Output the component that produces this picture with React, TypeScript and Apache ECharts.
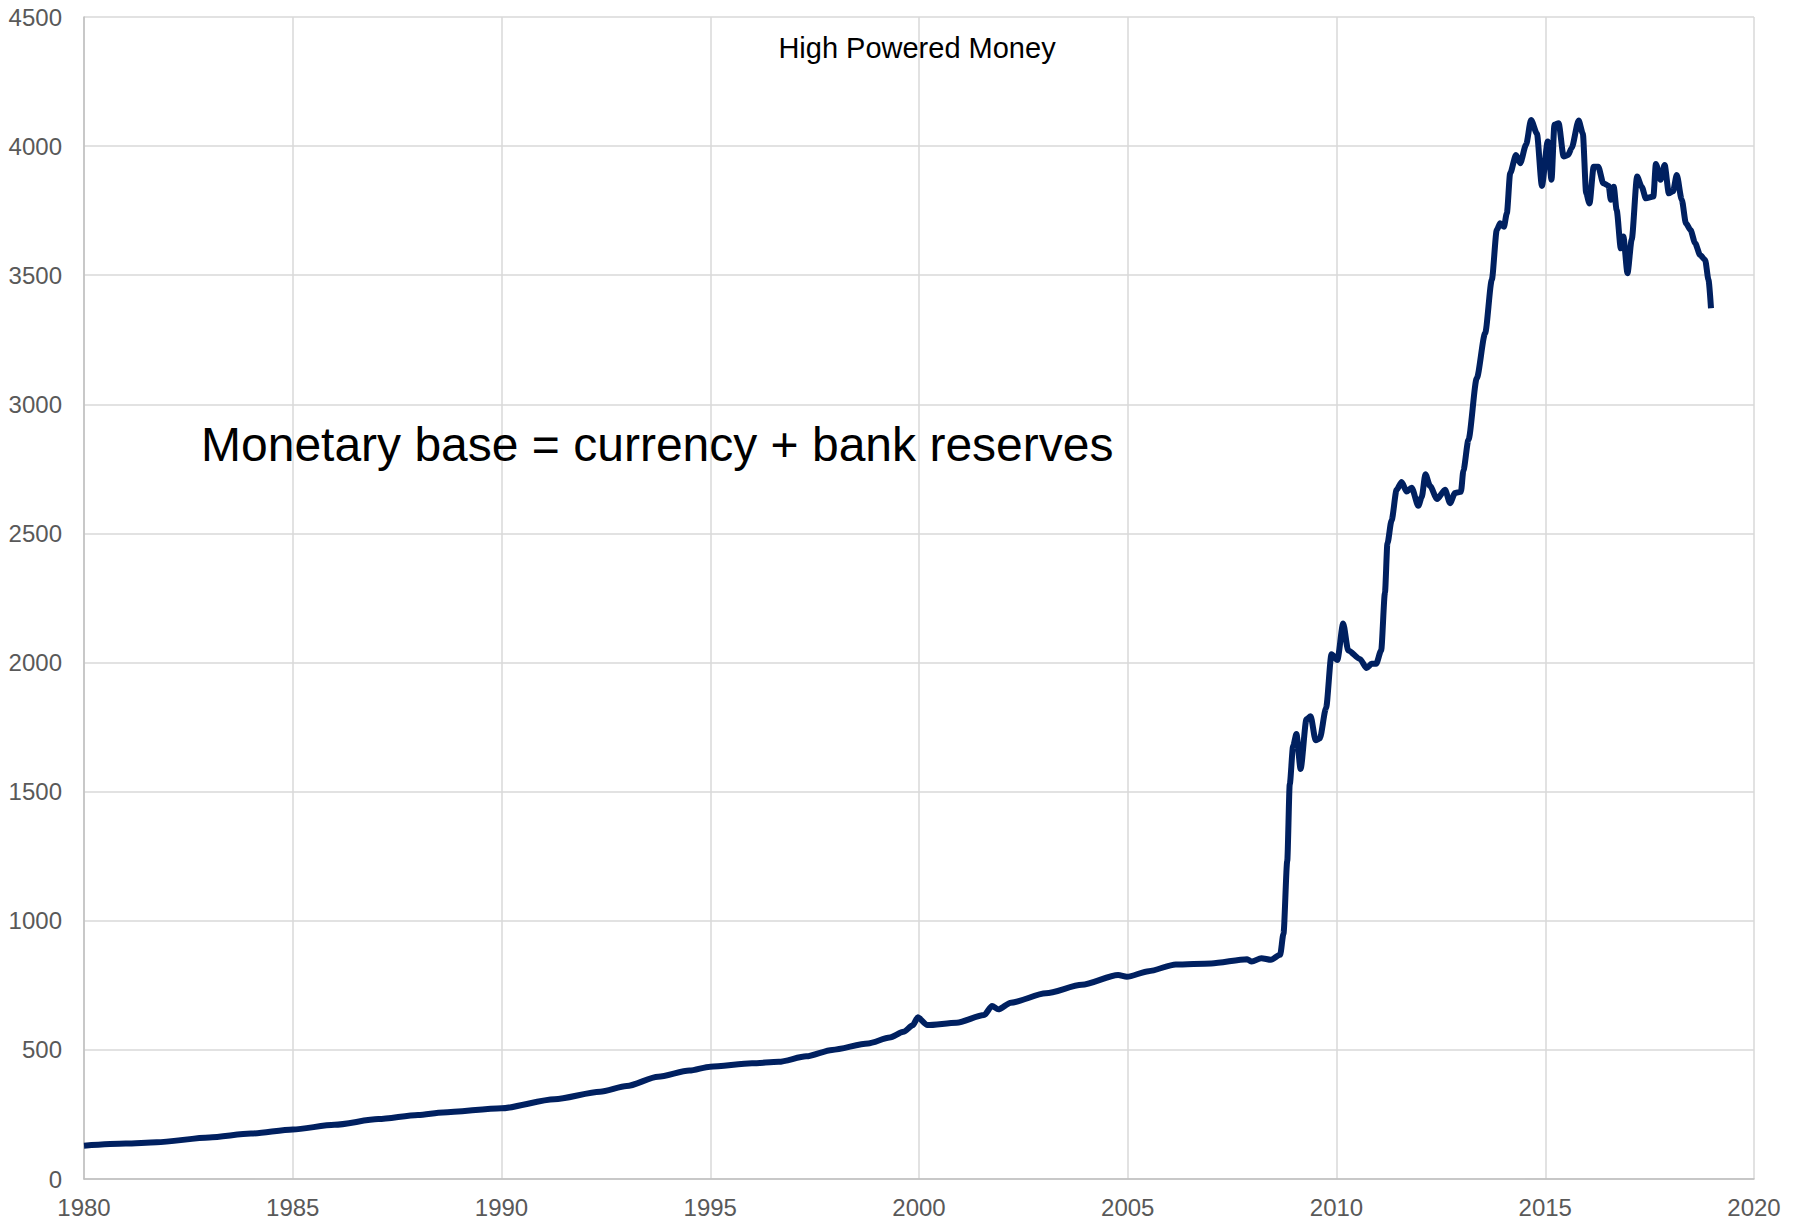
import React, { useEffect, useRef } from "react";
import * as echarts from "echarts";

const titleText = "High Powered Money";
const noteText = "Monetary base = currency + bank reserves";

const xTicks = { min: 1980, max: 2020, interval: 5 };
const yTicks = { min: 0, max: 4500, interval: 500 };

const years = [
  1980.0, 1981.0, 1981.74, 1983.0, 1984.0, 1985.0, 1986.0, 1987.05, 1988.0, 1988.6,
  1990.0, 1991.27, 1992.36, 1993.0, 1993.75, 1994.5, 1995.0, 1996.0, 1996.64, 1997.3,
  1997.92, 1998.78, 1999.3, 1999.63, 1999.85, 1999.97, 2000.2, 2000.9, 2001.56, 2001.75,
  2001.9, 2002.2, 2003.04, 2003.9, 2004.77, 2004.98, 2005.5, 2006.15, 2007.0, 2007.86,
  2007.97, 2008.2, 2008.43, 2008.65, 2008.73, 2008.82, 2008.88, 2008.96, 2009.04, 2009.14,
  2009.28, 2009.38, 2009.5, 2009.6, 2009.75, 2009.88, 2010.02, 2010.16, 2010.28, 2010.56,
  2010.72, 2010.84, 2010.95, 2011.07, 2011.16, 2011.22, 2011.32, 2011.44, 2011.56, 2011.68,
  2011.8, 2011.96, 2012.04, 2012.13, 2012.24, 2012.41, 2012.6, 2012.72, 2012.84, 2012.98,
  2013.04, 2013.16, 2013.36, 2013.56, 2013.72, 2013.84, 2013.92, 2014.01, 2014.08, 2014.16,
  2014.3, 2014.4, 2014.54, 2014.66, 2014.8, 2014.92, 2015.06, 2015.15, 2015.22, 2015.32,
  2015.44, 2015.55, 2015.63, 2015.8, 2015.9, 2015.98, 2016.06, 2016.16, 2016.27, 2016.39,
  2016.52, 2016.57, 2016.64, 2016.71, 2016.81, 2016.87, 2016.97, 2017.07, 2017.2, 2017.31,
  2017.41, 2017.59, 2017.65, 2017.76, 2017.86, 2017.96, 2018.06, 2018.15, 2018.27, 2018.37,
  2018.48, 2018.59, 2018.71, 2018.83, 2018.91, 2018.97,
];

const values = [
  129, 137, 142, 161, 176, 192, 210, 232, 248, 258,
  274, 309, 338, 360, 396, 420, 435, 448, 454, 475,
  500, 525, 548, 570, 595, 626, 596, 605, 635, 670,
  657, 683, 719, 752, 790, 783, 805, 831, 835, 851,
  842, 855, 849, 868, 950, 1231, 1528, 1676, 1723, 1588,
  1780, 1792, 1699, 1706, 1824, 2032, 2010, 2151, 2047, 2014,
  1979, 1995, 1995, 2047, 2270, 2462, 2551, 2669, 2699, 2662,
  2677, 2607, 2640, 2729, 2684, 2633, 2669, 2617, 2657, 2661,
  2744, 2862, 3101, 3275, 3482, 3676, 3701, 3688, 3740, 3895,
  3966, 3934, 4005, 4101, 4049, 3846, 4018, 3870, 4083, 4089,
  3960, 3966, 3992, 4099, 4049, 3817, 3778, 3920, 3920, 3856,
  3846, 3792, 3843, 3753, 3604, 3650, 3508, 3637, 3882, 3843,
  3798, 3805, 3931, 3870, 3927, 3817, 3825, 3888, 3792, 3701,
  3675, 3624, 3578, 3559, 3482, 3372,
];

export default function App() {
  const ref = useRef<HTMLDivElement>(null);
  useEffect(() => {
    if (!ref.current) return;
    const chart = echarts.init(ref.current, null, { renderer: "svg" });
    const data = years.map((y, i) => [y, values[i]]);
    const font = "Liberation Sans, Arial, sans-serif";
    chart.setOption({
      animation: false,
      backgroundColor: "#ffffff",
      grid: { left: 84, right: 49, top: 17, bottom: 45, containLabel: false },
      xAxis: {
        type: "value",
        min: xTicks.min,
        max: xTicks.max,
        interval: xTicks.interval,
        axisLine: { show: true, lineStyle: { color: "#bfbfbf", width: 1.5 } },
        axisTick: { show: false },
        axisLabel: {
          color: "#595959",
          fontSize: 24,
          fontFamily: font,
          margin: 16,
          formatter: (v: number) => String(v),
        },
        splitLine: { show: true, lineStyle: { color: "#d9d9d9", width: 1.5 } },
      },
      yAxis: {
        type: "value",
        min: yTicks.min,
        max: yTicks.max,
        interval: yTicks.interval,
        axisLine: { show: true, lineStyle: { color: "#bfbfbf", width: 1.5 } },
        axisTick: { show: false },
        axisLabel: {
          color: "#595959",
          fontSize: 24,
          fontFamily: font,
          margin: 22,
          formatter: (v: number) => String(v),
        },
        splitLine: { show: true, lineStyle: { color: "#d9d9d9", width: 1.5 } },
      },
      graphic: [
        {
          type: "text",
          x: 917,
          y: 33,
          style: {
            text: titleText,
            fill: "#000000",
            fontSize: 29,
            fontFamily: font,
            textAlign: "center",
            textVerticalAlign: "top",
          },
          z: 10,
        },
        {
          type: "text",
          x: 201,
          y: 420,
          style: {
            text: noteText,
            fill: "#000000",
            fontSize: 48,
            fontFamily: font,
            textAlign: "left",
            textVerticalAlign: "top",
          },
          z: 10,
        },
      ],
      series: [
        {
          type: "line",
          data,
          showSymbol: false,
          smooth: 0.25,
          smoothMonotone: "x",
          lineStyle: { color: "#002060", width: 6 },
          z: 5,
        },
      ],
    });
    return () => chart.dispose();
  }, []);
  return (
    <div
      ref={ref}
      style={{ position: "fixed", left: 0, top: 0, width: 1803, height: 1224, background: "#fff" }}
    />
  );
}
